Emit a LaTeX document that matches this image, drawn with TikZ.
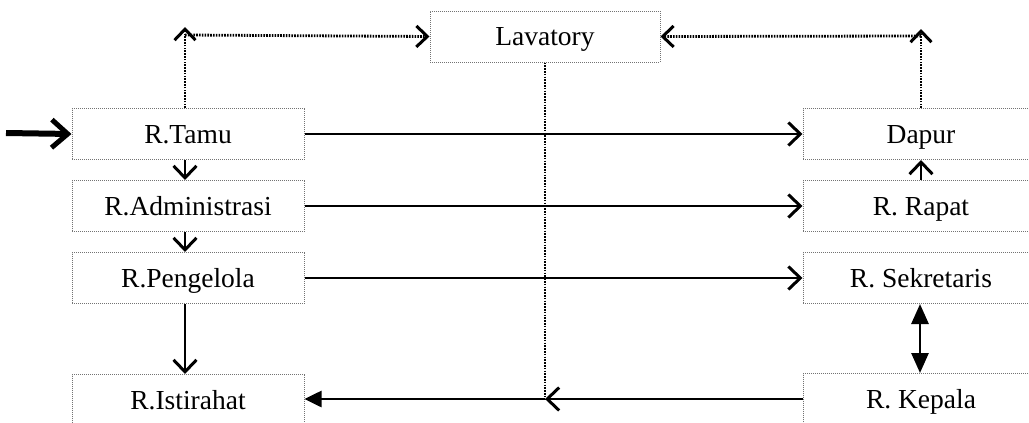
\documentclass[tikz,border=0pt]{standalone}
\usepackage{fontspec}
\setmainfont{Liberation Serif}
\usetikzlibrary{arrows.meta}
\begin{document}
\begin{tikzpicture}[x=1pt,y=-1pt,
  room/.style={draw=black!55, densely dotted, line width=1pt, rectangle,
    inner sep=0pt, minimum height=51, text height=18, text depth=0,
    font=\fontsize{27.5}{32}\selectfont},
  leftroom/.style={room, minimum width=232},
  rightroom/.style={room, minimum width=236},
  flow/.style={line width=2.6pt, -{Straight Barb[length=12, width=23, line width=3pt]}},
  dots/.style={line width=2.8pt, dash pattern=on 1.6pt off 1.2pt},
  dotflow/.style={dots, -{Straight Barb[length=11, width=21, line width=3pt]}},
  solidhead/.style={line width=2.6pt, -{Triangle[length=17, width=16]}},
  both/.style={line width=2.8pt, {Triangle[length=20, width=17]}-{Triangle[length=20, width=17]}}
]
\useasboundingbox (0,0) rectangle (1029,423);

% rooms
\node[room, minimum width=230] (lav) at (545,36.5) {Lavatory};
\node[leftroom] (tamu)  at (188,134)  {R.Tamu};
\node[leftroom] (adm)   at (188,206)  {R.Administrasi};
\node[leftroom] (peng)  at (188,278)  {R.Pengelola};
\node[leftroom] (ist)   at (188,400)  {R.Istirahat};
\node[rightroom] (dapur) at (921,134) {Dapur};
\node[rightroom] (rapat) at (921,206) {R. Rapat};
\node[rightroom] (sek)   at (921,278) {R. Sekretaris};
\node[rightroom] (kep)   at (921,399) {R. Kepala};

% helper points
\coordinate (entry) at (6,133);
\coordinate (tl) at (185,27);
\coordinate (tlh) at (185,35);
\coordinate (tr) at (921,29);
\coordinate (trh) at (921,36);
\coordinate (m) at (545,399);

% entrance
\draw[line width=6pt, -{Straight Barb[length=16, width=28, line width=5pt]}] (entry) -- (tamu.west);

% dotted links to the lavatory
\draw[dotflow] ([xshift=-3]tamu.north) -- (tl);
\draw[dotflow] (tlh) -- (lav.west);
\draw[dotflow] (dapur.north) -- (tr);
\draw[dotflow] (trh) -- (lav.east);
\draw[dots] (lav.south) -- (m);

% left column
\draw[flow] ([xshift=-3]tamu.south) -- ([xshift=-3]adm.north);
\draw[flow] ([xshift=-3]adm.south) -- ([xshift=-3]peng.north);
\draw[flow] ([xshift=-3]peng.south) -- ([xshift=-3]ist.north);

% across
\draw[flow] (tamu.east) -- (dapur.west);
\draw[flow] (adm.east) -- (rapat.west);
\draw[flow] (peng.east) -- (sek.west);

% right column
\draw[flow] (rapat.north) -- (dapur.south);
\draw[both] ([xshift=-1]sek.south) -- ([xshift=-1]kep.north);

% back to the rest room
\draw[flow] (kep.west) -- (m);
\draw[solidhead] (m) -- (ist.east |- m);
\end{tikzpicture}
\end{document}
